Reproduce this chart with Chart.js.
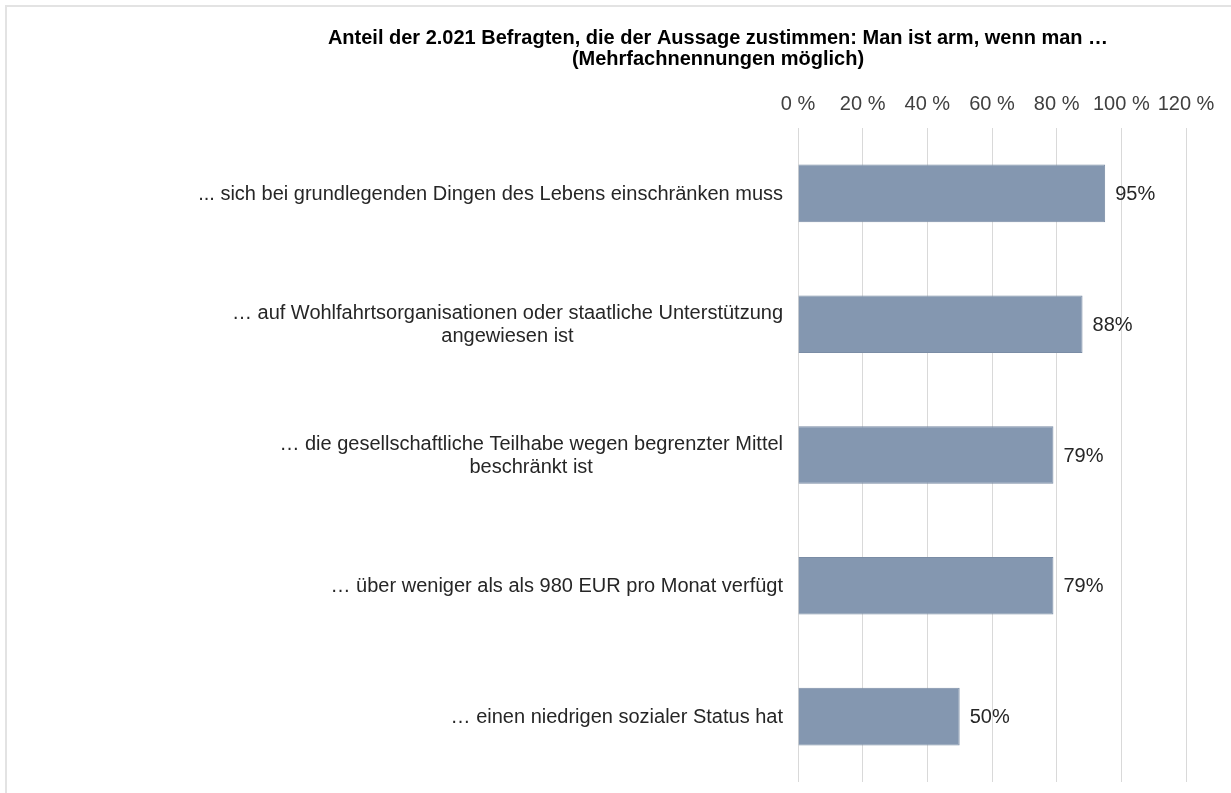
<!DOCTYPE html>
<html>
<head>
<meta charset="utf-8">
<script src="https://cdn.jsdelivr.net/npm/chart.js@4"></script>
<style>
  html, body { margin: 0; padding: 0; background: #fff; }
  #wrap { position: relative; width: 1231px; height: 793px; }
  #frame { position: absolute; left: 5px; top: 5px; right: -10px; bottom: -10px;
           border-left: 2px solid #e3e3e3; border-top: 2px solid #e3e3e3; }
  canvas { position: absolute; left: 0; top: 0; }
</style>
</head>
<body>
<div id="wrap">
  <div id="frame"></div>
  <canvas id="povertyChart" width="1231" height="793"></canvas>
</div>
<script>
// Daten aus der Grafik
var categories = [
    ['... sich bei grundlegenden Dingen des Lebens einschränken muss'],
    ['… auf Wohlfahrtsorganisationen oder staatliche Unterstützung', 'angewiesen ist'],
    ['… die gesellschaftliche Teilhabe wegen begrenzter Mittel', 'beschränkt ist'],
    ['… über weniger als als 980 EUR pro Monat verfügt'],
    ['… einen niedrigen sozialer Status hat']
];
var shares = [95, 88, 79, 79, 50];
var xTicks = [0, 20, 40, 60, 80, 100, 120];
var titleLines = [
    'Anteil der 2.021 Befragten, die der Aussage zustimmen: Man ist arm, wenn man …',
    '(Mehrfachnennungen möglich)'
];

var fontFamily = '"Liberation Sans", Arial, sans-serif';

// Titel, Kategorien und Werte selbst zeichnen
var labelPlugin = {
    id: 'labelPlugin',
    afterDraw: function (chart) {
        var ctx = chart.ctx;
        var yScale = chart.scales.y;
        var area = chart.chartArea;
        ctx.save();

        // Titel
        ctx.fillStyle = '#000';
        ctx.font = 'bold 20px ' + fontFamily;
        ctx.textAlign = 'center';
        ctx.textBaseline = 'middle';
        titleLines.forEach(function (line, i) {
            ctx.fillText(line, 718, 38 + i * 21);
        });

        // Kategorien: Block rechtsbündig, Zeilen zentriert
        ctx.font = '20px ' + fontFamily;
        ctx.fillStyle = '#262626';
        var rightEdge = area.left - 15;
        categories.forEach(function (lines, i) {
            var y = yScale.getPixelForTick(i) + 1;
            var widest = 0;
            lines.forEach(function (l) { widest = Math.max(widest, ctx.measureText(l).width); });
            var cx = rightEdge - widest / 2;
            var lh = 23;
            var start = y - (lines.length - 1) * lh / 2;
            lines.forEach(function (l, j) {
                ctx.fillText(l, cx, start + j * lh);
            });
        });

        // Werte an den Balken
        ctx.textAlign = 'left';
        ctx.fillStyle = '#262626';
        var meta = chart.getDatasetMeta(0);
        meta.data.forEach(function (bar, i) {
            ctx.fillText(shares[i] + '%', bar.x + 10, bar.y + 1);
        });
        ctx.restore();
    }
};

var ctx = document.getElementById('povertyChart').getContext('2d');
var povertyChart = new Chart(ctx, {
    type: 'bar',
    data: {
        labels: categories,
        datasets: [{
            data: shares,
            backgroundColor: '#8497b0',
            borderColor: '#7a8ca5',
            borderWidth: 1,
            categoryPercentage: 1.0,
            barPercentage: 0.44
        }]
    },
    options: {
        indexAxis: 'y',
        responsive: false,
        animation: false,
        layout: { padding: { left: 0, right: 45, top: 0, bottom: 11 } },
        plugins: {
            legend: { display: false },
            tooltip: { enabled: false },
            title: { display: false }
        },
        scales: {
            x: {
                position: 'top',
                min: 0,
                max: 120,
                afterBuildTicks: function (scale) {
                    scale.ticks = xTicks.map(function (v) { return { value: v }; });
                },
                afterFit: function (scale) { scale.height = 128; },
                ticks: {
                    padding: 12,
                    color: '#404040',
                    font: { family: fontFamily, size: 20 },
                    callback: function (v) { return v + ' %'; }
                },
                grid: { color: '#d9d9d9', drawTicks: false },
                border: { display: false }
            },
            y: {
                afterFit: function (scale) { scale.width = 798; },
                ticks: { display: false },
                grid: { display: false },
                border: { display: false }
            }
        }
    },
    plugins: [labelPlugin]
});
</script>
</body>
</html>
